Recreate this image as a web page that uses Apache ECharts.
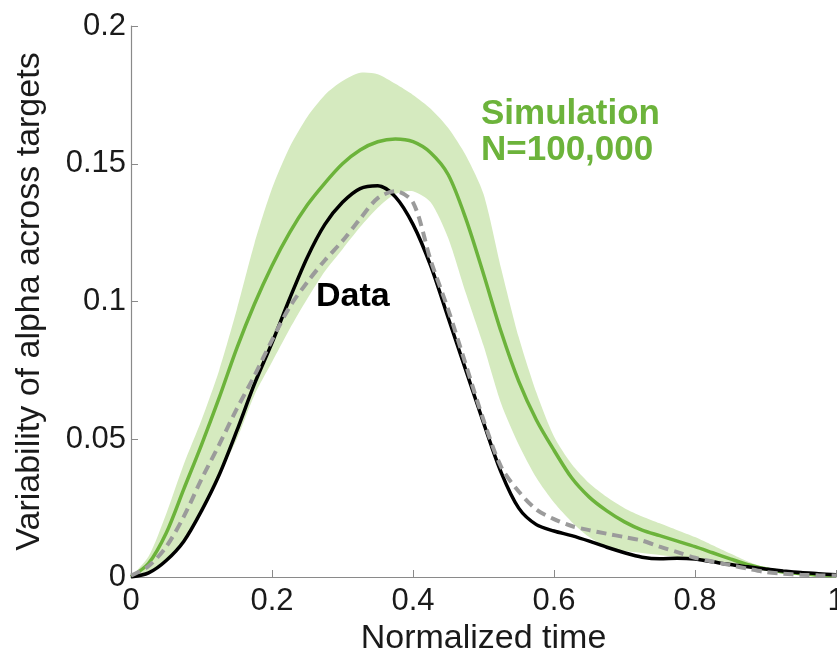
<!DOCTYPE html>
<html>
<head>
<meta charset="utf-8">
<script src="https://cdn.jsdelivr.net/npm/echarts@6/dist/echarts.min.js"></script>
<style>
  html, body { margin: 0; padding: 0; background: #fff; }
  #chart { width: 837px; height: 653px; }
</style>
</head>
<body>
<div id="chart"></div>
<script>
// normalized time grid
var timeVals = [0, 0.025, 0.05, 0.075, 0.1, 0.125, 0.15, 0.175, 0.2, 0.225, 0.25, 0.275, 0.3, 0.325, 0.35, 0.375, 0.4, 0.425, 0.45, 0.475, 0.5,
  0.525, 0.55, 0.575, 0.6, 0.625, 0.65, 0.675, 0.7, 0.725, 0.75, 0.775, 0.8, 0.825, 0.85, 0.875, 0.9, 0.925, 0.95, 0.975, 1];

// simulation mean (green)
var simMean = [0, 0.005, 0.016, 0.032, 0.048, 0.065, 0.083, 0.099, 0.113, 0.125, 0.135, 0.143, 0.150, 0.155, 0.158, 0.159, 0.158, 0.154, 0.146, 0.130, 0.110,
  0.089, 0.071, 0.057, 0.046, 0.036, 0.029, 0.024, 0.020, 0.017, 0.015, 0.013, 0.011, 0.0088, 0.0066, 0.0045, 0.003, 0.0018, 0.0012, 0.0007, 0.0004];

// simulation band
var simUpper = [0, 0.0075, 0.023, 0.041, 0.057, 0.075, 0.097, 0.121, 0.141, 0.156, 0.167, 0.175, 0.180, 0.183, 0.1825, 0.179, 0.175, 0.170, 0.163, 0.153, 0.139,
  0.112, 0.087, 0.067, 0.051, 0.041, 0.034, 0.029, 0.025, 0.022, 0.0195, 0.017, 0.0145, 0.0115, 0.0085, 0.0056, 0.0033, 0.0017, 0.0009, 0.0004, 0.0002];
var simLower = [0, 0.0015, 0.006, 0.013, 0.024, 0.037, 0.050, 0.066, 0.078, 0.090, 0.101, 0.111, 0.119, 0.127, 0.134, 0.139, 0.140, 0.136, 0.123, 0.103, 0.084,
  0.063, 0.048, 0.036, 0.027, 0.020, 0.0145, 0.011, 0.0095, 0.0087, 0.008, 0.0073, 0.0065, 0.0055, 0.0045, 0.0034, 0.0024, 0.0015, 0.0009, 0.0004, 0.0002];

// data (black)
var dataVals = [0, 0.0015, 0.006, 0.013, 0.024, 0.037, 0.053, 0.070, 0.085, 0.101, 0.116, 0.128, 0.136, 0.141, 0.142, 0.138, 0.128, 0.113, 0.094, 0.075, 0.056,
  0.038, 0.025, 0.019, 0.0167, 0.015, 0.013, 0.0108, 0.0088, 0.0072, 0.0066, 0.0068, 0.0065, 0.0055, 0.0045, 0.0037, 0.0029, 0.0022, 0.0016, 0.0012, 0.0008];

// gray dashed
var dashedVals = [0.0005, 0.004, 0.011, 0.022, 0.0355, 0.048, 0.061, 0.073, 0.086, 0.098, 0.107, 0.115, 0.122, 0.130, 0.1375, 0.140, 0.136, 0.115, 0.097, 0.077, 0.057,
  0.040, 0.031, 0.0245, 0.021, 0.0185, 0.017, 0.0157, 0.0145, 0.0132, 0.011, 0.009, 0.007, 0.0056, 0.0043, 0.003, 0.0018, 0.0012, 0.0008, 0.0006, 0.0005];

function pairs(vals) {
  return timeVals.map(function (t, i) { return [t, vals[i]]; });
}

var chart = echarts.init(document.getElementById('chart'));
var font = 'Liberation Sans';
var green = '#6cb33b';

var option = {
  backgroundColor: '#fff',
  animation: false,
  grid: { left: 131, right: 1, top: 26, bottom: 76, containLabel: false, outerBoundsMode: 'none' },
  xAxis: {
    type: 'value',
    min: 0, max: 1, interval: 0.2,
    name: 'Normalized time',
    nameLocation: 'middle',
    nameGap: 36,
    nameTextStyle: { fontSize: 34, color: '#1a1a1a', fontFamily: font },
    axisLine: { lineStyle: { color: '#8a8a8a', width: 1.2 } },
    axisTick: { inside: true, length: 7, lineStyle: { color: '#8a8a8a' } },
    axisLabel: { fontSize: 31, color: '#1a1a1a', fontFamily: font, margin: 9, hideOverlap: false },
    splitLine: { show: false }
  },
  yAxis: {
    type: 'value',
    min: 0, max: 0.2, interval: 0.05,
    name: 'Variability of alpha across targets',
    nameLocation: 'middle',
    nameGap: 84,
    nameTextStyle: { fontSize: 34, color: '#1a1a1a', fontFamily: font },
    axisLine: { show: true, lineStyle: { color: '#8a8a8a', width: 1.2 } },
    axisTick: { show: true, inside: true, length: 7, lineStyle: { color: '#8a8a8a' } },
    axisLabel: { fontSize: 31, color: '#1a1a1a', fontFamily: font, margin: 5 },
    splitLine: { show: false }
  },
  series: [
    {
      type: 'custom',
      name: 'band',
      coordinateSystem: 'cartesian2d',
      data: timeVals.map(function (t, i) { return [t, simLower[i], simUpper[i]]; }),
      encode: { x: 0, y: [1, 2] },
      silent: true,
      z: 1,
      renderItem: function (params, api) {
        if (params.dataIndex !== 0) return;
        var pts = [];
        for (var i = 0; i < timeVals.length; i++) pts.push(api.coord([timeVals[i], simUpper[i]]));
        for (var j = timeVals.length - 1; j >= 0; j--) pts.push(api.coord([timeVals[j], simLower[j]]));
        return {
          type: 'polygon',
          shape: { points: pts, smooth: 0.25 },
          style: { fill: '#d5eabf' }
        };
      }
    },
    {
      type: 'line', name: 'Simulation', smooth: 0.3,
      data: pairs(simMean), symbol: 'none',
      lineStyle: { color: green, width: 3.5 }, z: 3
    },
    {
      type: 'line', name: 'Data', smooth: 0.3,
      data: pairs(dataVals), symbol: 'none',
      lineStyle: { color: '#000', width: 3.5 }, z: 4
    },
    {
      type: 'line', name: 'Model', smooth: 0.3,
      data: pairs(dashedVals), symbol: 'none',
      lineStyle: { color: '#9b9b9b', width: 4, type: [10, 6] }, z: 5
    }
  ],
  graphic: [
    {
      type: 'text', left: 481, top: 97, z: 10,
      style: { text: 'Simulation', fill: green, fontSize: 35, fontWeight: 'bold', fontFamily: font }
    },
    {
      type: 'text', left: 481, top: 133, z: 10,
      style: { text: 'N=100,000', fill: green, fontSize: 35, fontWeight: 'bold', fontFamily: font }
    },
    {
      type: 'text', left: 316, top: 280, z: 10,
      style: { text: 'Data', fill: '#000', fontSize: 34, fontWeight: 'bold', fontFamily: font }
    }
  ]
};

chart.setOption(option);
</script>
</body>
</html>
